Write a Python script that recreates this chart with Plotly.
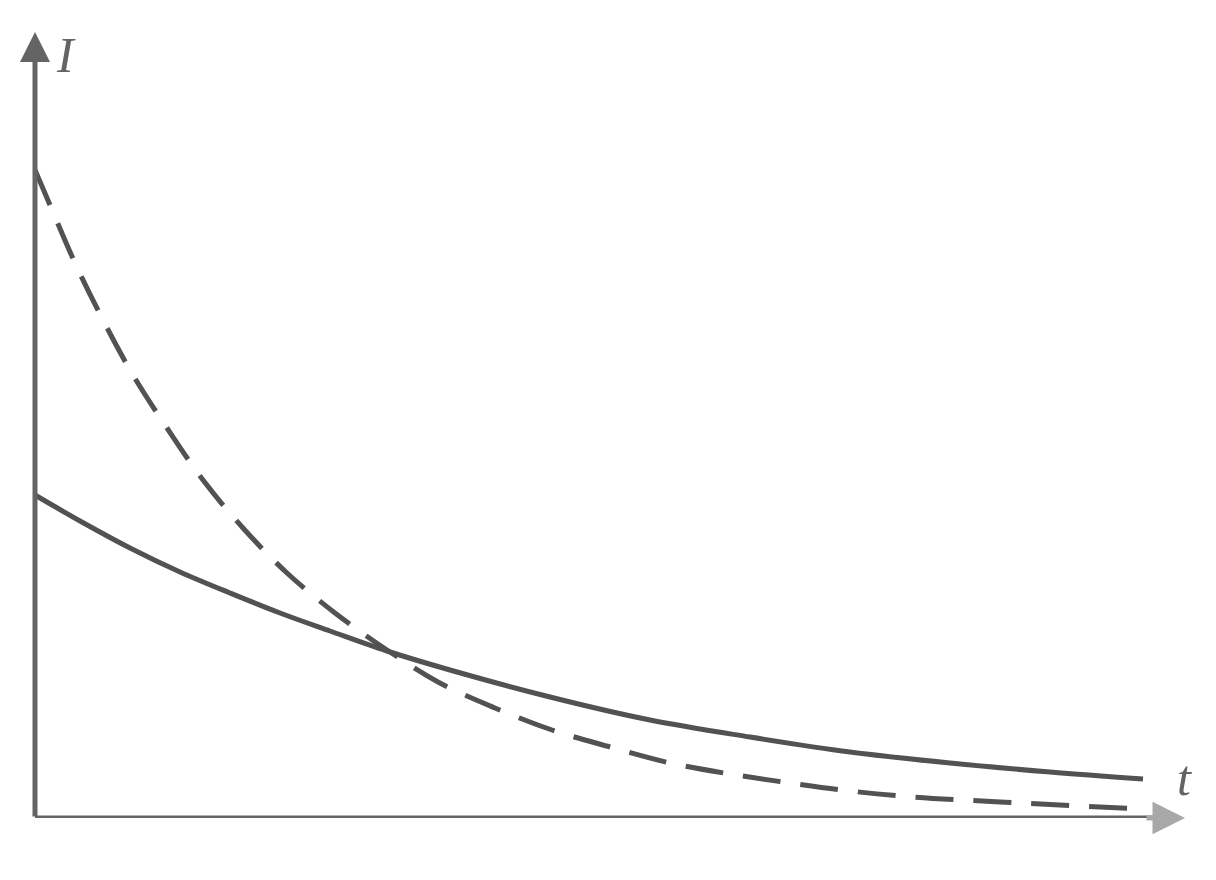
import plotly.graph_objects as go

# values (t along the horizontal, I up the vertical)
solid_t = [0.0, 0.45, 0.95, 1.45, 1.95, 2.45, 2.95, 3.52, 4.15, 5.15, 6.15, 7.15,
           8.15, 9.15, 10.15, 11.08]
solid_i = [3.23, 2.97, 2.70, 2.46, 2.25, 2.05, 1.87, 1.67, 1.48, 1.21, 0.98, 0.81,
           0.66, 0.55, 0.46, 0.39]

dashed_t = [0.0, 0.15, 0.40, 0.68, 0.98, 1.32, 1.68, 2.08, 2.52, 3.00, 3.52, 4.03,
            4.60, 5.17, 5.75, 6.35, 6.95, 7.55, 8.15, 8.78, 9.65, 11.08]
dashed_i = [6.48, 6.13, 5.55, 4.98, 4.43, 3.90, 3.38, 2.90, 2.45, 2.05, 1.68, 1.36,
            1.10, 0.88, 0.71, 0.55, 0.44, 0.35, 0.27, 0.21, 0.16, 0.09]

T_MAX = 11.5
I_MAX = 7.86

LINE_COLOR = '#525252'
AXIS_COLOR = '#646464'

fig = go.Figure()

fig.add_trace(go.Scatter(x=dashed_t, y=dashed_i, mode='lines',
                         line=dict(color=LINE_COLOR, width=5, dash='38px,20px', shape='spline'),
                         showlegend=False, hoverinfo='skip'))

fig.add_trace(go.Scatter(x=solid_t, y=solid_i, mode='lines',
                         line=dict(color=LINE_COLOR, width=5, shape='spline'),
                         showlegend=False, hoverinfo='skip'))

# axes drawn as arrows
fig.add_shape(type='line', x0=0, y0=0, x1=T_MAX - 0.3, y1=0,
              line=dict(color=AXIS_COLOR, width=5))
fig.add_annotation(x=T_MAX, y=0, ax=T_MAX - 0.4, ay=0, xref='x', yref='y',
                   axref='x', ayref='y', text='', showarrow=True,
                   arrowhead=2, arrowsize=1.3, arrowwidth=5, arrowcolor='#a8a8a8')
fig.add_annotation(x=0, y=I_MAX, ax=0, ay=0, xref='x', yref='y',
                   axref='x', ayref='y', text='', showarrow=True,
                   arrowhead=2, arrowsize=1.2, arrowwidth=5, arrowcolor=AXIS_COLOR)

label_font = dict(family='Liberation Serif', size=50, color=AXIS_COLOR)
fig.add_annotation(x=0.31, y=7.63, xref='x', yref='y', showarrow=False,
                   text='<i>I</i>', font=label_font)
fig.add_annotation(x=11.49, y=0.40, xref='x', yref='y', showarrow=False,
                   text='<i>t</i>', font=label_font)

fig.update_xaxes(range=[0, T_MAX], visible=False)
fig.update_yaxes(range=[0, I_MAX], visible=False)

# page body adds 8px, margins compensate
fig.update_layout(width=1216, height=880,
                  paper_bgcolor='white', plot_bgcolor='white',
                  margin=dict(l=27, r=39, t=24, b=70))

fig.write_html("out.html")
